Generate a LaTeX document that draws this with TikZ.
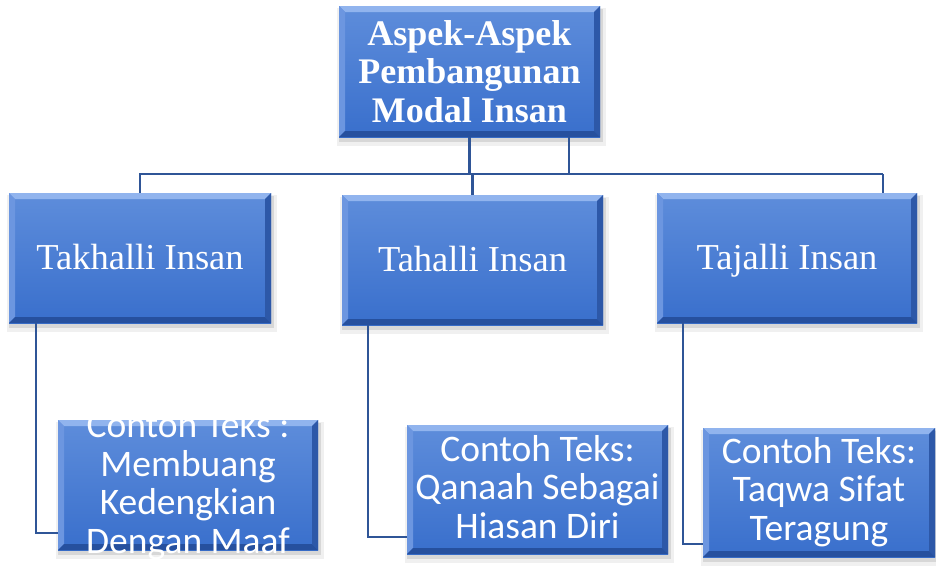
\documentclass[tikz,border=0pt]{standalone}
\usepackage{fontspec}
\setmainfont{Liberation Serif}
\newfontfamily\calibrifont{Carlito}
\usetikzlibrary{calc,fit}
\definecolor{faceT}{RGB}{94,141,219}
\definecolor{faceB}{RGB}{57,111,204}
\definecolor{bevT}{RGB}{145,180,238}
\definecolor{bevL}{RGB}{108,150,224}
\definecolor{bevR}{RGB}{45,88,168}
\definecolor{bevB}{RGB}{38,80,158}
\definecolor{lineblue}{RGB}{47,85,151}
\newcommand{\bevelbox}[5]{%
  \fill[black,opacity=0.06] (#2-2,#3+2) rectangle (#4+6,#5+9);
  \fill[black,opacity=0.10] (#2,#3+3) rectangle (#4+3,#5+5);
  \shade[top color=faceT,bottom color=faceB] (#2,#3) rectangle (#4,#5);
  \fill[bevT] (#2,#3) -- (#4,#3) -- (#4-6,#3+6) -- (#2+6,#3+6) -- cycle;
  \fill[bevL] (#2,#3) -- (#2+6,#3+6) -- (#2+6,#5-6) -- (#2,#5) -- cycle;
  \fill[bevR] (#4,#3) -- (#4-6,#3+6) -- (#4-6,#5-6) -- (#4,#5) -- cycle;
  \fill[bevB] (#2,#5) -- (#2+6,#5-6) -- (#4-6,#5-6) -- (#4,#5) -- cycle;
  \node[fit={(#2,#3) (#4,#5)},inner sep=0pt] (#1) {};
}
\tikzset{
  conn/.style={draw=lineblue,line width=2.4pt},
  toptext/.style={text=white,align=center,inner sep=0pt,font=\fontsize{36}{38.5}\selectfont\bfseries},
  midtext/.style={text=white,inner sep=0pt,anchor=base,font=\fontsize{36.5}{40}\selectfont},
  lowtext/.style={text=white,align=center,inner sep=0pt,anchor=base,font=\calibrifont\fontsize{37.5}{38.5}\selectfont},
}
\begin{document}
\begin{tikzpicture}[x=1pt,y=-1pt]
\fill[white] (0,0) rectangle (936,565);
\useasboundingbox (0,0) rectangle (936,565);
% boxes
\bevelbox{top}{339}{6}{600}{137}
\bevelbox{l1}{9}{193}{271}{323}
\bevelbox{l2}{342}{195}{603}{325}
\bevelbox{l3}{657}{193}{917}{323}
\bevelbox{c1}{58}{420}{318}{550}
\bevelbox{c2}{407}{425}{668}{554}
\bevelbox{c3}{703}{428}{935}{557}
% connectors
\coordinate (busL) at (139,174);
\coordinate (busR) at (883,174);
\draw[conn] (top.south) -- (top.south |- busL);
\draw[conn] ($(top.south west)!0.88!(top.south east)$) -- ++(0,37);
\draw[conn] (busL) -- (busR);
\draw[conn] (l1.north |- busL) -- (l1.north);
\draw[conn] (l2.north |- busL) -- (l2.north);
\draw[conn] (busR) -- (l3.north -| busR);
\draw[conn] ($(l1.south west)!0.103!(l1.south east)$) |- ($(c1.south west)+(0,-17)$);
\draw[conn] ($(l2.south west)!0.1!(l2.south east)$) |- ($(c2.south west)+(0,-17)$);
\draw[conn] ($(l3.south west)!0.1!(l3.south east)$) |- ($(c3.south west)+(0,-13)$);
% texts
\node[toptext] (ttop) at (top.center) {Aspek-Aspek\\Pembangunan\\Modal Insan};
\node[midtext] (tl1) at (l1.center |- 0,269) {Takhalli Insan};
\node[midtext] (tl2) at (l2.center |- 0,271) {Tahalli Insan};
\node[midtext] (tl3) at (l3.center |- 0,269) {Tajalli Insan};
\node[lowtext] (tc1) at (c1.center |- 0,553) {Contoh Teks :\\Membuang\\Kedengkian\\Dengan Maaf};
\node[lowtext] (tc2) at (c2.center |- 0,538) {Contoh Teks:\\Qanaah Sebagai\\Hiasan Diri};
\node[lowtext] (tc3) at (c3.center |- 0,540) {Contoh Teks:\\Taqwa Sifat\\Teragung};
\end{tikzpicture}
\end{document}
